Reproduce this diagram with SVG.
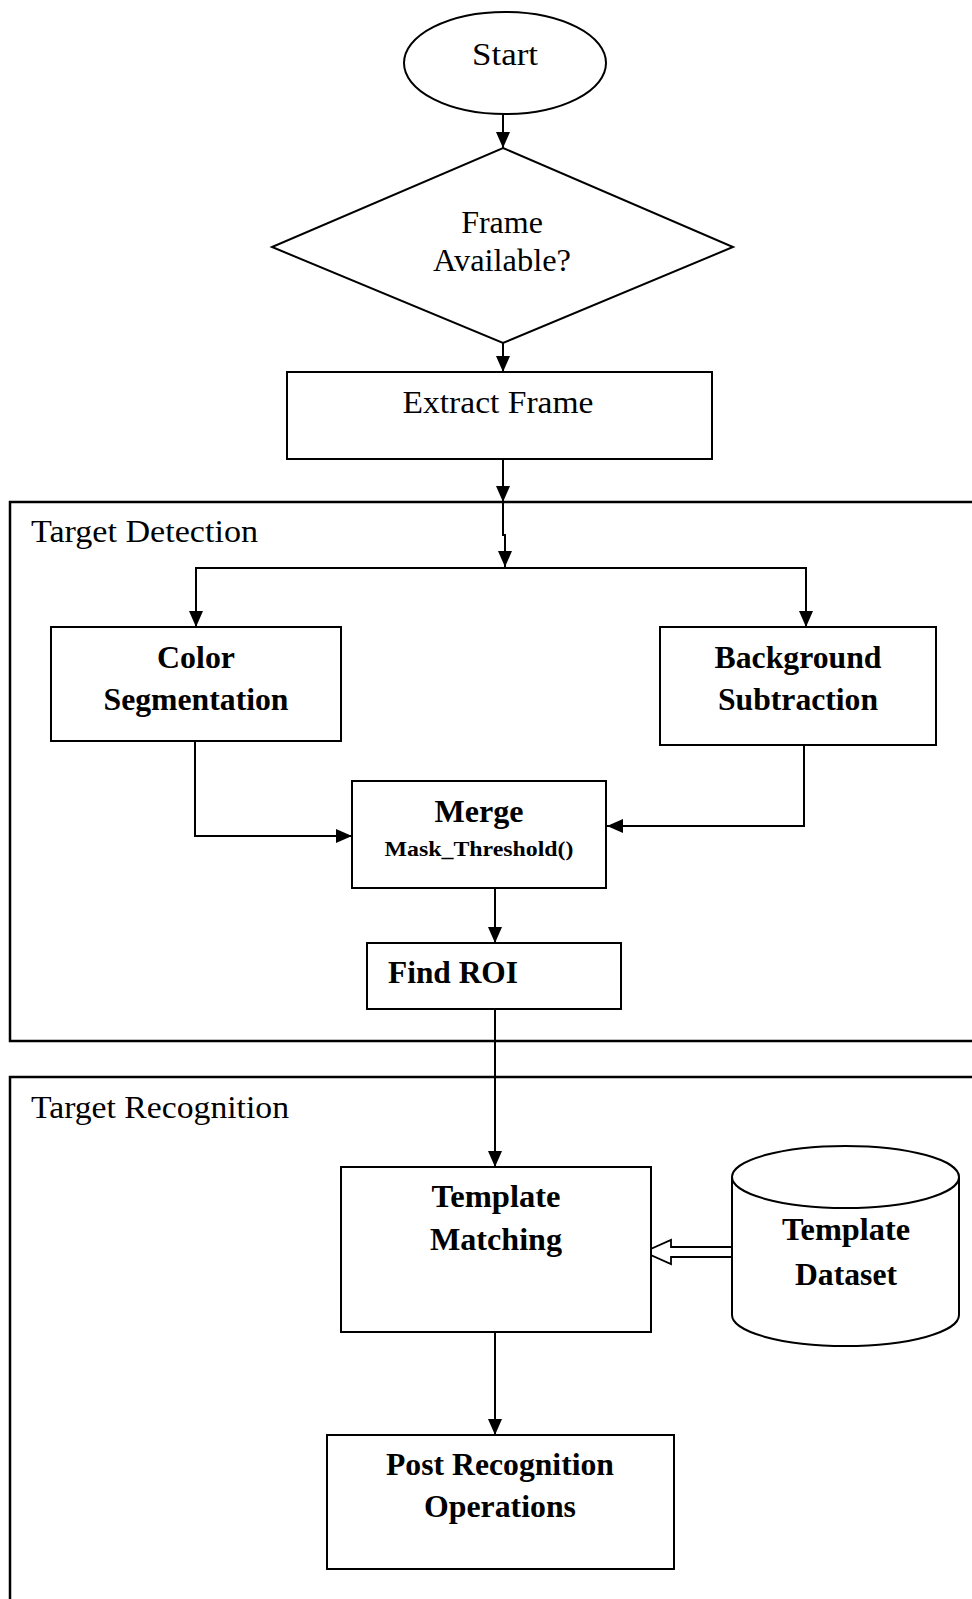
<svg xmlns="http://www.w3.org/2000/svg" width="972" height="1599" viewBox="0 0 972 1599">
  <style>
    .shape { fill: #fff; stroke: #000; stroke-width: 2; }
    .section { fill: none; stroke: #000; stroke-width: 2.5; }
    .link { fill: none; stroke: #000; stroke-width: 2; }
    .plain { font-family: "Liberation Serif", "Times New Roman", serif; font-size: 32px; fill: #000; }
    .bold { font-family: "Liberation Serif", "Times New Roman", serif; font-size: 32px; font-weight: bold; fill: #000; }
    .small { font-family: "Liberation Serif", "Times New Roman", serif; font-size: 22px; font-weight: bold; fill: #000; }
  </style>
  <defs>
    <marker id="arrow" viewBox="0 0 16 14" refX="16" refY="7" markerWidth="16" markerHeight="14" markerUnits="userSpaceOnUse" orient="auto">
      <path d="M0,0 L16,7 L0,14 Z" fill="#000"/>
    </marker>
  </defs>
  <rect width="972" height="1599" fill="#fff"/>

  <!-- swimlane sections -->
  <g id="section-detection">
    <rect class="section" x="10" y="502" width="1000" height="539"/>
    <text class="plain" x="31" y="542" textLength="227" lengthAdjust="spacingAndGlyphs">Target Detection</text>
  </g>
  <g id="section-recognition">
    <rect class="section" x="10" y="1077" width="1000" height="600"/>
    <text class="plain" x="31" y="1118" textLength="258" lengthAdjust="spacingAndGlyphs">Target Recognition</text>
  </g>

  <!-- connectors -->
  <g id="connectors">
    <path class="link" d="M503,114 V148" marker-end="url(#arrow)"/>
    <path class="link" d="M503,343 V372" marker-end="url(#arrow)"/>
    <path class="link" d="M503,459 V502" marker-end="url(#arrow)"/>
    <path class="link" d="M503,502 V535 H505 V567" marker-end="url(#arrow)"/>
    <path class="link" d="M196,568 H806"/>
    <path class="link" d="M196,567 V627" marker-end="url(#arrow)"/>
    <path class="link" d="M806,567 V627" marker-end="url(#arrow)"/>
    <path class="link" d="M195,741 V836 H352" marker-end="url(#arrow)"/>
    <path class="link" d="M804,745 V826 H607" marker-end="url(#arrow)"/>
    <path class="link" d="M495,888 V943" marker-end="url(#arrow)"/>
    <path class="link" d="M495,1009 V1167" marker-end="url(#arrow)"/>
    <path class="link" d="M495,1332 V1435" marker-end="url(#arrow)"/>
    <!-- hollow data-flow arrow from the dataset -->
    <polygon points="732,1247 671,1247 671,1240 644,1252 671,1264 671,1257 732,1257" fill="#fff" stroke="#000" stroke-width="1.8"/>
  </g>

  <g id="start">
    <ellipse class="shape" cx="505" cy="63" rx="101" ry="51"/>
    <text class="plain" x="505" y="65" text-anchor="middle" textLength="66" lengthAdjust="spacingAndGlyphs">Start</text>
  </g>

  <g id="frame-available">
    <polygon class="shape" points="503,148 733,247 503,343 272,247"/>
    <text class="plain" x="502" y="233" text-anchor="middle">Frame</text>
    <text class="plain" x="502" y="271" text-anchor="middle" textLength="138" lengthAdjust="spacingAndGlyphs">Available?</text>
  </g>

  <g id="extract-frame">
    <rect class="shape" x="287" y="372" width="425" height="87"/>
    <text class="plain" x="498" y="413" text-anchor="middle" textLength="191" lengthAdjust="spacingAndGlyphs">Extract Frame</text>
  </g>

  <g id="color-segmentation">
    <rect class="shape" x="51" y="627" width="290" height="114"/>
    <text class="bold" x="196" y="668" text-anchor="middle" textLength="78" lengthAdjust="spacingAndGlyphs">Color</text>
    <text class="bold" x="196" y="710" text-anchor="middle" textLength="185" lengthAdjust="spacingAndGlyphs">Segmentation</text>
  </g>

  <g id="background-subtraction">
    <rect class="shape" x="660" y="627" width="276" height="118"/>
    <text class="bold" x="798" y="668" text-anchor="middle" textLength="167" lengthAdjust="spacingAndGlyphs">Background</text>
    <text class="bold" x="798" y="710" text-anchor="middle" textLength="160" lengthAdjust="spacingAndGlyphs">Subtraction</text>
  </g>

  <g id="merge">
    <rect class="shape" x="352" y="781" width="254" height="107"/>
    <text class="bold" x="479" y="822" text-anchor="middle" textLength="89" lengthAdjust="spacingAndGlyphs">Merge</text>
    <text class="small" x="479" y="856" text-anchor="middle" textLength="189" lengthAdjust="spacingAndGlyphs">Mask_Threshold()</text>
  </g>

  <g id="find-roi">
    <rect class="shape" x="367" y="943" width="254" height="66"/>
    <text class="bold" x="388" y="983" textLength="130" lengthAdjust="spacingAndGlyphs">Find ROI</text>
  </g>

  <g id="template-matching">
    <rect class="shape" x="341" y="1167" width="310" height="165"/>
    <text class="bold" x="496" y="1207" text-anchor="middle" textLength="129" lengthAdjust="spacingAndGlyphs">Template</text>
    <text class="bold" x="496" y="1250" text-anchor="middle" textLength="132" lengthAdjust="spacingAndGlyphs">Matching</text>
  </g>

  <g id="template-dataset">
    <path class="shape" d="M732,1177 V1315 A113.5,31 0 0 0 959,1315 V1177"/>
    <ellipse class="shape" cx="845.5" cy="1177" rx="113.5" ry="31"/>
    <text class="bold" x="846" y="1240" text-anchor="middle" textLength="128" lengthAdjust="spacingAndGlyphs">Template</text>
    <text class="bold" x="846" y="1285" text-anchor="middle" textLength="102" lengthAdjust="spacingAndGlyphs">Dataset</text>
  </g>

  <g id="post-recognition">
    <rect class="shape" x="327" y="1435" width="347" height="134"/>
    <text class="bold" x="500" y="1475" text-anchor="middle" textLength="228" lengthAdjust="spacingAndGlyphs">Post Recognition</text>
    <text class="bold" x="500" y="1517" text-anchor="middle" textLength="152" lengthAdjust="spacingAndGlyphs">Operations</text>
  </g>
</svg>
